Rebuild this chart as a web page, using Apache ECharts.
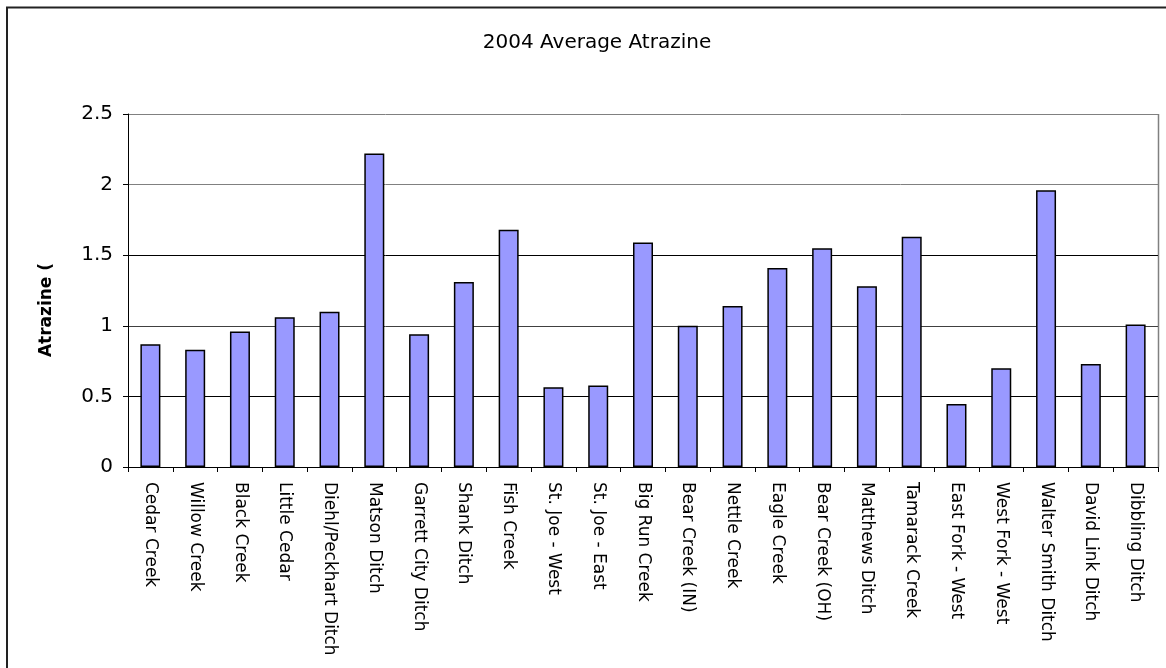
<!DOCTYPE html>
<html>
<head>
<meta charset="utf-8">
<script src="https://cdn.jsdelivr.net/npm/echarts@6/dist/echarts.min.js"></script>
<style>
  html, body { margin: 0; padding: 0; background: #fff; }
  #chart { width: 1166px; height: 668px; }
</style>
</head>
<body>
<div id="chart"></div>
<script>
// Stream sites sampled in 2004
const sites = [
  'Cedar Creek', 'Willow Creek', 'Black Creek', 'Little Cedar', 'Diehl/Peckhart Ditch',
  'Matson Ditch', 'Garrett City Ditch', 'Shank Ditch', 'Fish Creek', 'St. Joe - West',
  'St. Joe - East', 'Big Run Creek', 'Bear Creek (IN)', 'Nettle Creek', 'Eagle Creek',
  'Bear Creek (OH)', 'Matthews Ditch', 'Tamarack Creek', 'East Fork - West', 'West Fork - West',
  'Walter Smith Ditch', 'David Link Ditch', 'Dibbling Ditch'
];

// Average atrazine concentration per site
const atrazine = [
  0.87, 0.83, 0.96, 1.06, 1.10,
  2.22, 0.94, 1.31, 1.68, 0.565,
  0.577, 1.59, 1.00, 1.14, 1.41,
  1.55, 1.28, 1.63, 0.447, 0.70,
  1.96, 0.73, 1.01
];

const yTicks = [0, 0.5, 1, 1.5, 2, 2.5];

const FONT = '"DejaVu Sans", "Liberation Sans", Arial';

const chart = echarts.init(document.getElementById('chart'), null, { renderer: 'canvas' });

chart.setOption({
  backgroundColor: '#ffffff',
  animation: false,
  title: {
    text: '2004 Average Atrazine',
    left: 592,
    top: 28,
    textAlign: 'center',
    textStyle: { fontFamily: FONT, fontSize: 20, fontWeight: 'normal', color: '#000' }
  },
  graphic: [
    // outer frame (left and top edges)
    {
      type: 'polyline',
      shape: { points: [[7, 700], [7, 7.5], [1166, 7.5]] },
      style: { fill: 'none', stroke: '#222', lineWidth: 2 },
      silent: true
    },
    // plot area border (right edge)
    {
      type: 'line',
      shape: { x1: 1158.5, y1: 114, x2: 1158.5, y2: 467 },
      style: { stroke: '#808080', lineWidth: 1.5 },
      silent: true
    },
    {
      type: 'text',
      x: 47,
      y: 310,
      rotation: Math.PI / 2,
      style: {
        text: 'Atrazine (',
        font: 'bold 17px "DejaVu Sans", Arial',
        fill: '#000',
        align: 'center',
        verticalAlign: 'middle'
      }
    }
  ],
  grid: { left: 128, right: 8, top: 114, bottom: 201, containLabel: false },
  xAxis: {
    type: 'category',
    data: sites,
    axisLine: { lineStyle: { color: '#000', width: 1 } },
    axisTick: { show: true, alignWithLabel: false, length: 5, lineStyle: { color: '#000' } },
    axisLabel: {
      rotate: -90,
      interval: 0,
      margin: 15,
      fontFamily: FONT,
      fontSize: 17,
      color: '#000'
    }
  },
  yAxis: {
    type: 'value',
    min: 0,
    max: 2.5,
    interval: 0.5,
    axisLine: { show: true, lineStyle: { color: '#000', width: 1 } },
    axisTick: { show: true, length: 5, lineStyle: { color: '#000' } },
    axisLabel: {
      margin: 15,
      fontFamily: FONT,
      fontSize: 20,
      color: '#000',
      formatter: v => (yTicks.includes(v) ? String(v) : '')
    },
    splitLine: {
      show: true,
      lineStyle: { color: ['#000', '#000', '#404040', '#000', '#808080', '#808080'], width: 1 }
    }
  },
  series: [{
    type: 'bar',
    data: atrazine,
    barWidth: 20,
    itemStyle: { color: '#9999FF', borderColor: '#000', borderWidth: 1.5 }
  }]
});
</script>
</body>
</html>
